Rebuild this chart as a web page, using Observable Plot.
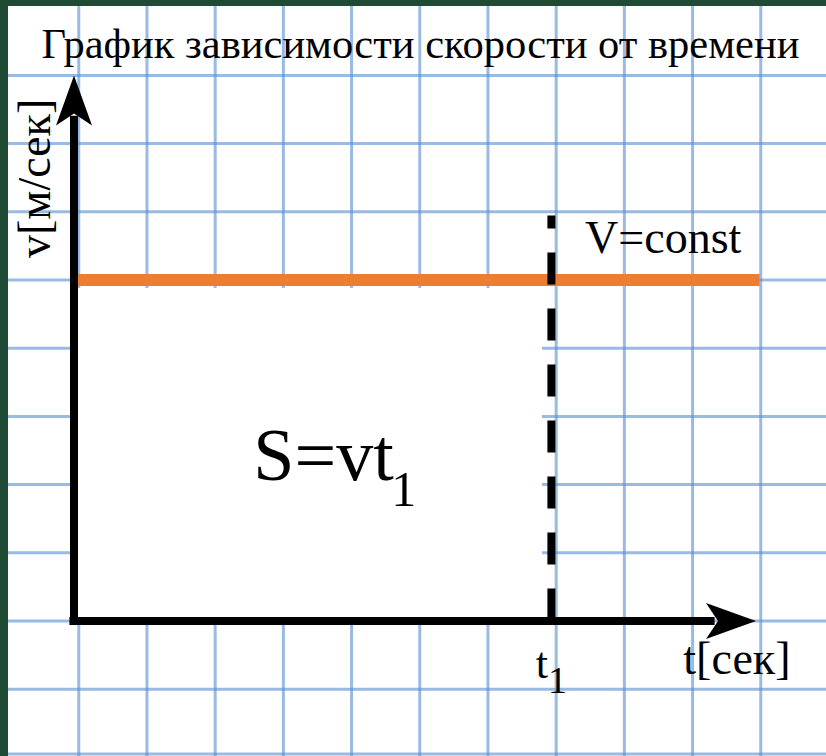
<!DOCTYPE html>
<html><head><meta charset="utf-8">
<script src="https://cdn.jsdelivr.net/npm/d3@7"></script>
<script src="https://cdn.jsdelivr.net/npm/@observablehq/plot@0.6"></script>
<style>
html,body{margin:0;padding:0;background:#1f4a33;width:826px;height:756px;overflow:hidden}
#chart{position:absolute;left:8px;top:6px;width:818px;height:750px;background:#fff}
#chart svg text{font-family:"Liberation Serif",serif}
#preload{position:absolute;left:0;top:0;font-family:"Liberation Serif";font-size:10px;color:#1f4a33;opacity:0.01;z-index:-1}
</style></head><body><div id="preload">График зависимости скорости от времени V=const S=vt1 t[сек] v[м/сек]</div><div id="chart"></div>
<script>
// ---- values (grid units) ----
const titleText = ["График зависимости скорости от времени"];
const xAxisLabel = ["t[сек]"];
const yAxisLabel = ["v[м/сек]"];
const lineLabel = ["V=const"];
const areaLabel = ["S=vt"];
const areaSub = ["1"];
const tickLabel = ["t"];
const tickSub = ["1"];
const t1 = [7];          // moment t1
const vConst = [5];      // constant speed
const tMax = [10];       // end of t axis
const vMax = [8];        // end of v axis
const dashTop = [5.94];  // top of the dashed line at t1
const gridT = [0.07, 1.07, 2.07, 3.07, 4.07, 5.07, 6.07, 7.07, 8.07, 9.07, 10.07];
const gridV = [-1.95, -1, 0, 1, 2, 3, 4, 5, 6, 7, 8];

const T1 = t1[0], V = vConst[0], TM = tMax[0], VM = vMax[0];
const serif = "Liberation Serif";

// filled notched arrow head, tip at origin pointing up
const stealth = {
  draw(ctx) {
    ctx.moveTo(0, 0);
    ctx.lineTo(18, 50);
    ctx.lineTo(0, 38);
    ctx.lineTo(-18, 50);
    ctx.closePath();
  }
};

const gridStyle = {stroke: "#5a8fd0", strokeOpacity: 0.62, strokeWidth: 3};
const txt = {text: d => d, fill: "black", fontFamily: serif, lineAnchor: "bottom"};

const chart = Plot.plot({
  width: 818,
  height: 750,
  margin: 0,
  style: {background: "white", overflow: "visible"},
  x: {domain: [0, 10], range: [65.5, 747.5], axis: null},
  y: {domain: [0, 8], range: [614.5, 68.9], axis: null},
  marks: [
    Plot.ruleX(gridT, gridStyle),
    Plot.ruleY(gridV, gridStyle),
    // area S under the line (white, hides grid)
    Plot.rect([{a: 0.05, b: T1 - 0.13, c: 0, d: V - 0.125}], {x1: "a", x2: "b", y1: "c", y2: "d", fill: "white"}),
    // V = const line
    Plot.ruleY(vConst, {x1: 0, x2: TM + 0.06, stroke: "#ed7d31", strokeWidth: 12}),
    // dashed line at t1
    Plot.ruleX(t1, {y1: 0, y2: dashTop[0], stroke: "black", strokeWidth: 8, strokeDasharray: "32,24"}),
    // axes
    Plot.ruleX([0], {y1: -0.06, y2: VM - 0.6, stroke: "black", strokeWidth: 8}),
    Plot.ruleY([0], {x1: -0.06, x2: TM - 0.6, stroke: "black", strokeWidth: 8}),
    Plot.dot([{t: 0, v: VM}], {x: "t", y: "v", symbol: stealth, r: 10, fill: "black", stroke: "none"}),
    Plot.dot([{t: TM, v: 0}], {x: "t", y: "v", symbol: stealth, r: 10, rotate: 90, fill: "black", stroke: "none"}),
    // title
    Plot.text(titleText, {...txt, x: () => 5.08, y: () => VM + 0.25, fontSize: 42.5, textAnchor: "middle"}),
    // axis labels
    Plot.text(yAxisLabel, {...txt, x: () => -0.345, y: () => 6.49, rotate: -90, fontSize: 46, textAnchor: "middle"}),
    Plot.text(xAxisLabel, {...txt, x: () => TM - 0.28, y: () => -0.77, fontSize: 46, textAnchor: "middle"}),
    // V=const
    Plot.text(lineLabel, {...txt, x: () => T1 + 1.64, y: () => V + 0.39, fontSize: 46, textAnchor: "middle"}),
    // S = v t1
    Plot.text(areaLabel, {...txt, x: () => 2.63, y: () => 2.07, fontSize: 74, textAnchor: "start"}),
    Plot.text(areaSub, {...txt, x: () => 4.65, y: () => 1.68, fontSize: 50, textAnchor: "start"}),
    // t1 tick label
    Plot.text(tickLabel, {...txt, x: () => T1 - 0.23, y: () => -0.83, fontSize: 44, textAnchor: "start"}),
    Plot.text(tickSub, {...txt, x: () => T1 - 0.05, y: () => -1.06, fontSize: 38, textAnchor: "start"})
  ]
});
document.getElementById("chart").appendChild(chart);
chart.querySelectorAll("text").forEach(t => {
  t.setAttribute("font-family", serif);
  t.style.fontFamily = "'Liberation Serif'";
  getComputedStyle(t).fontFamily;
  t.getBBox();
});
document.body.offsetHeight;
</script>
</body></html>
